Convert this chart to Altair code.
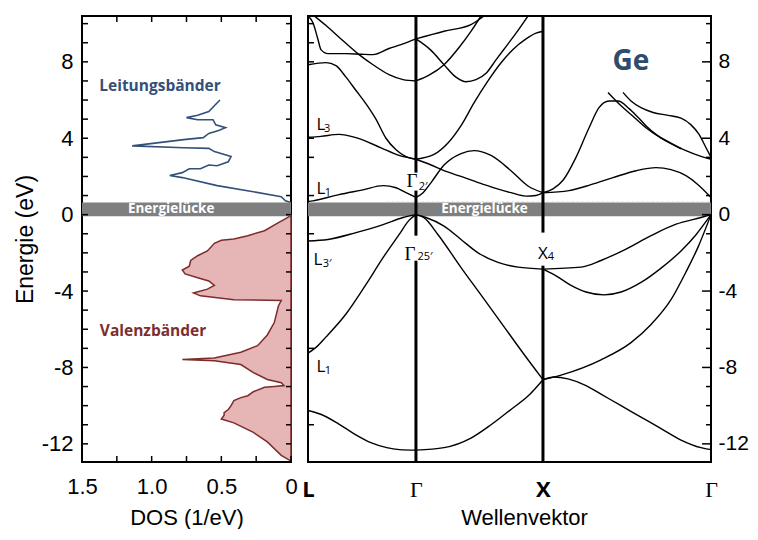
import altair as alt
import pandas as pd

# ---------------- axis ranges and tick values ----------------
E_RANGE = [-12.95, 10.4]
K_RANGE = [0.0, 3.173]
DOS_RANGE = [1.5, 0.0]
GAP = [-0.08, 0.64]
GAP_DOTS_E = 0.66
GAP_DOTS_K = [0.62, 3.173]

KPOINT_POS = [0.0, 0.85, 1.85, 3.173]
KPOINT_LABELS = ["L", "Γ", "X", "Γ"]
E_TICK_LABELS = [-12, -8, -4, 0, 4, 8]
DOS_TICK_LABELS = [1.5, 1.0, 0.5, 0.0]
E_MINOR = [-12, -11, -10, -9, -8, -7, -6, -5, -4, -3, -2, -1, 0, 1, 2, 3, 4, 5, 6, 7, 8, 9, 10]
DOS_MINOR = [0.0, 0.25, 0.5, 0.75, 1.0, 1.25, 1.5]
BAND_LEFT_TICKS = [10, 9, 8, 4, 3, 1, -1, -7, -11]

# ---------------- DOS (left panel) ----------------
DOS_CB_E = [6.0, 5.7, 5.4, 5.2, 5.08, 4.97, 4.97, 4.7, 4.55, 4.4, 4.25, 4.03, 3.93, 3.6, 3.5, 3.47,
            3.3, 3.04, 2.77, 2.56, 2.6, 2.4, 2.4, 2.2, 2.05, 1.94, 1.52, 1.2, 0.94, 0.73, 0.63]
DOS_CB_D = [0.51, 0.55, 0.59, 0.67, 0.75, 0.67, 0.56, 0.54, 0.47, 0.52, 0.59, 0.63, 0.77, 1.14, 0.77, 0.59,
            0.55, 0.43, 0.45, 0.53, 0.59, 0.65, 0.73, 0.78, 0.87, 0.78, 0.53, 0.27, 0.07, 0.04, 0.0]

DOS_VB_E = [-0.05, -0.42, -0.84, -1.1, -1.28, -1.34, -1.5, -1.9, -2.15, -2.4, -2.7, -2.9, -3.1, -3.3, -3.47,
            -3.7, -3.9, -4.1, -4.25, -4.45, -4.5, -4.77, -5.65, -6.3, -6.86, -7.2, -7.5, -7.58, -7.65, -7.85,
            -8.27, -8.63, -8.8, -8.95, -9.0, -9.04, -9.27, -9.48, -9.58, -9.74, -10.0, -10.2, -10.37, -10.5,
            -10.7, -10.9, -11.4, -11.9, -12.6, -12.9]
DOS_VB_D = [0.0, 0.09, 0.19, 0.31, 0.41, 0.5, 0.55, 0.6, 0.67, 0.72, 0.73, 0.78, 0.76, 0.67, 0.59,
            0.55, 0.6, 0.7, 0.65, 0.41, 0.07, 0.09, 0.12, 0.17, 0.24, 0.36, 0.55, 0.78, 0.55, 0.36,
            0.27, 0.17, 0.07, 0.05, 0.12, 0.19, 0.27, 0.31, 0.36, 0.41, 0.43, 0.45, 0.48, 0.48,
            0.5, 0.41, 0.27, 0.17, 0.07, 0.0]

# ---------------- band structure (right panel) ----------------
# L -> Gamma
V1A_K = [0, 0.1, 0.24, 0.37, 0.5, 0.62, 0.72, 0.85]
V1A_E = [-10.25, -10.45, -10.95, -11.5, -11.95, -12.2, -12.3, -12.33]
V2A_K = [0, 0.063, 0.142, 0.299, 0.457, 0.591, 0.717, 0.795, 0.85]
V2A_E = [-7.25, -6.95, -6.4, -5.2, -3.65, -2.25, -1.05, -0.3, 0]
V3A_K = [0, 0.157, 0.378, 0.591, 0.748, 0.85]
V3A_E = [-1.38, -1.3, -0.94, -0.52, -0.15, 0]
C1A_K = [0, 0.039, 0.244, 0.433, 0.591, 0.693, 0.772, 0.85]
C1A_E = [0.68, 0.72, 1.05, 1.3, 1.52, 1.41, 1.15, 0.9]
C2A_K = [0, 0.102, 0.244, 0.378, 0.575, 0.717, 0.85]
C2A_E = [4.05, 4.1, 4.2, 4.03, 3.5, 3.1, 2.9]
C3A_K = [0, 0.142, 0.22, 0.299, 0.378, 0.457, 0.535, 0.614, 0.693, 0.772, 0.85]
C3A_E = [7.85, 7.96, 7.8, 7.2, 6.5, 5.8, 5.0, 4.0, 3.4, 3.04, 2.9]
C4A_K = [0.047, 0.142, 0.26, 0.402, 0.512, 0.638, 0.748, 0.85]
C4A_E = [10.42, 9.9, 9.2, 8.38, 7.85, 7.33, 7.07, 7.0]
C5A_K = [0, 0.039, 0.079, 0.102, 0.157, 0.299, 0.417, 0.512, 0.638, 0.732, 0.85]
C5A_E = [10.4, 10.05, 9.16, 8.64, 8.43, 8.43, 8.4, 8.38, 8.7, 8.9, 9.2]
# Gamma -> X
V1B_K = [0.85, 1.071, 1.283, 1.441, 1.598, 1.732, 1.85]
V1B_E = [-12.33, -12.2, -11.7, -11.0, -10.2, -9.5, -8.64]
V2B_K = [0.85, 0.913, 1.024, 1.205, 1.362, 1.52, 1.677, 1.85]
V2B_E = [0, -0.16, -1.05, -2.77, -4.2, -5.65, -7.1, -8.64]
V3B_K = [0.85, 0.929, 1.071, 1.205, 1.339, 1.496, 1.654, 1.85]
V3B_E = [0, -0.15, -0.6, -1.3, -2.0, -2.5, -2.75, -2.85]
C1B_K = [0.85, 0.906, 0.969, 1.071, 1.205, 1.307, 1.441, 1.598, 1.732, 1.85]
C1B_E = [0.9, 1.15, 1.68, 2.6, 3.2, 3.35, 3.1, 2.3, 1.5, 1.15]
C2B_K = [0.85, 0.969, 1.071, 1.205, 1.339, 1.465, 1.598, 1.717, 1.795, 1.85]
C2B_E = [2.9, 2.6, 2.3, 2.0, 1.68, 1.4, 1.15, 0.97, 1.0, 1.15]
C3B_K = [0.85, 0.992, 1.102, 1.205, 1.307, 1.417, 1.52, 1.614, 1.717, 1.795, 1.85]
C3B_E = [2.9, 3.15, 3.75, 4.66, 5.85, 7.0, 7.95, 8.65, 9.2, 9.5, 9.6]
C4B_K = [0.85, 0.969, 1.071, 1.165, 1.244, 1.323, 1.402, 1.48, 1.559, 1.638, 1.732]
C4B_E = [9.2, 8.6, 7.85, 7.2, 6.96, 7.07, 7.4, 8.1, 8.8, 9.5, 10.4]
C5B_K = [0.85, 0.953, 1.071, 1.189, 1.283, 1.362]
C5B_E = [7.0, 7.3, 7.85, 8.75, 9.6, 10.4]
C6B_K = [0.85, 1.071, 1.283, 1.386]
C6B_E = [9.2, 9.6, 9.95, 10.4]
# X -> Gamma
V1C_K = [1.85, 2.15, 2.307, 2.504, 2.701, 2.898, 3.094, 3.173]
V1C_E = [-2.85, -2.75, -2.4, -1.8, -1.1, -0.5, -0.15, 0]
V2C_K = [1.85, 1.953, 2.071, 2.189, 2.331, 2.465, 2.622, 2.78, 2.937, 3.055, 3.173]
V2C_E = [-2.85, -3.2, -3.7, -4.05, -4.2, -4.05, -3.55, -2.8, -1.9, -1.05, 0]
V3C_K = [1.85, 1.992, 2.307, 2.543, 2.701, 2.858, 2.976, 3.071, 3.173]
V3C_E = [-8.64, -8.4, -7.6, -6.7, -5.75, -4.45, -3.0, -1.7, 0]
V4C_K = [1.85, 1.937, 2.047, 2.189, 2.307, 2.465, 2.622, 2.78, 2.937, 3.094, 3.173]
V4C_E = [-8.64, -8.5, -8.6, -8.95, -9.4, -10.0, -10.6, -11.2, -11.8, -12.2, -12.3]
C1C_K = [1.85, 2.055, 2.228, 2.402, 2.583, 2.74, 2.858, 2.976, 3.071, 3.173]
C1C_E = [1.15, 1.26, 1.57, 1.94, 2.3, 2.46, 2.36, 2.04, 1.57, 0.9]
C2C_K = [1.85, 1.929, 2.008, 2.11, 2.213, 2.291, 2.37, 2.441, 2.528, 2.598, 2.661, 2.74, 2.843, 2.976, 3.094, 3.173]
C2C_E = [1.15, 1.35, 1.8, 3.0, 4.55, 5.6, 5.95, 5.95, 5.55, 5.1, 4.66, 4.2, 3.8, 3.35, 3.05, 2.9]
C3C_K = [2.362, 2.465, 2.559, 2.661, 2.78, 2.937]
C3C_E = [6.4, 5.7, 5.15, 4.55, 4.0, 3.45]
C4C_K = [2.48, 2.543, 2.622, 2.717, 2.835, 2.937, 3.016, 3.079, 3.134, 3.173]
C4C_E = [6.4, 5.95, 5.6, 5.35, 5.2, 5.05, 4.7, 4.2, 3.5, 3.0]

BANDS = [
    ("v1a", V1A_K, V1A_E), ("v2a", V2A_K, V2A_E), ("v3a", V3A_K, V3A_E),
    ("c1a", C1A_K, C1A_E), ("c2a", C2A_K, C2A_E), ("c3a", C3A_K, C3A_E),
    ("c4a", C4A_K, C4A_E), ("c5a", C5A_K, C5A_E),
    ("v1b", V1B_K, V1B_E), ("v2b", V2B_K, V2B_E), ("v3b", V3B_K, V3B_E),
    ("c1b", C1B_K, C1B_E), ("c2b", C2B_K, C2B_E), ("c3b", C3B_K, C3B_E),
    ("c4b", C4B_K, C4B_E), ("c5b", C5B_K, C5B_E), ("c6b", C6B_K, C6B_E),
    ("v1c", V1C_K, V1C_E), ("v2c", V2C_K, V2C_E), ("v3c", V3C_K, V3C_E), ("v4c", V4C_K, V4C_E),
    ("c1c", C1C_K, C1C_E), ("c2c", C2C_K, C2C_E), ("c3c", C3C_K, C3C_E), ("c4c", C4C_K, C4C_E),
]

# symmetry-point vertical lines (with gaps for the labels)
VLINE_K = [0.85, 0.85, 0.85, 1.85, 1.85]
VLINE_TOP = [10.4, 1.26, -2.41, 10.4, -2.67]
VLINE_BOT = [2.2, -1.1, -12.95, -0.94, -12.95]

# point labels
SANS_LBL = ["L", "L", "L", "L", "X"]
SANS_LBL_K = [0.102, 0.102, 0.079, 0.102, 1.85]
SANS_LBL_E = [4.71, 1.36, -2.36, -7.96, -2.04]
SERIF_LBL = ["Γ", "Γ"]
SERIF_LBL_K = [0.819, 0.803]
SERIF_LBL_E = [1.78, -2.04]
SUB_LBL = ["3", "1", "3′", "1", "2′", "25′", "4"]
SUB_LBL_K = [0.15, 0.157, 0.15, 0.157, 0.906, 0.921, 1.913]
SUB_LBL_E = [4.5, 1.15, -2.57, -8.17, 1.47, -2.2, -2.2]

# ---------------- layout ----------------
W_L, W_R, H = 209, 403, 446
SANS = "Liberation Sans"
CAL = "Open Sans"

y_scale = alt.Scale(domain=E_RANGE, nice=False, zero=False)
dos_scale = alt.Scale(domain=DOS_RANGE, nice=False, zero=False)
k_scale = alt.Scale(domain=K_RANGE, nice=False, zero=False)

Y_AXIS_L = alt.Axis(values=E_TICK_LABELS, labelExpr="'' + datum.value", title="Energie (eV)",
                    labelFont=SANS, labelFontSize=22, labelPadding=9, titleFont=SANS,
                    titleFontSize=23, titleFontWeight="normal", titlePadding=4)
X_AXIS_L = alt.Axis(values=DOS_TICK_LABELS,
                    labelExpr="datum.value == 0 ? '0' : format(datum.value, '.1f')",
                    title="DOS (1/eV)", labelFont=SANS, labelFontSize=22, labelPadding=14,
                    labelFlush=False, titleFont=SANS, titleFontSize=22, titleFontWeight="normal",
                    titlePadding=10)

kexpr = ""
for pos, lab in zip(KPOINT_POS, KPOINT_LABELS):
    kexpr += "abs(datum.value - %s) < 0.01 ? '%s' : " % (pos, lab)
kexpr += "''"
gamma_test = " || ".join("abs(datum.value - %s) < 0.01" % pos
                         for pos, lab in zip(KPOINT_POS, KPOINT_LABELS) if lab == "Γ")

Y_AXIS_R = alt.Axis(orient="right", values=E_TICK_LABELS, labelExpr="'' + datum.value", title=None,
                    labelFont=SANS, labelFontSize=21, labelPadding=7)
X_AXIS_R = alt.Axis(values=KPOINT_POS, labelExpr=kexpr, title="Wellenvektor", labelFlush=False,
                    labelFont={"condition": {"test": gamma_test, "value": "Liberation Serif"},
                               "value": CAL},
                    labelFontWeight={"condition": {"test": gamma_test, "value": "normal"},
                                     "value": "bold"},
                    labelFontSize=22, labelPadding=17, titleFont=SANS, titleFontSize=22,
                    titleFontWeight="normal", titlePadding=7, titleX=216)

YL = alt.Y("E:Q", scale=y_scale, axis=Y_AXIS_L)
YR = alt.Y("E:Q", scale=y_scale, axis=Y_AXIS_R)
XL = alt.X("D:Q", scale=dos_scale, axis=X_AXIS_L)
XR = alt.X("k:Q", scale=k_scale, axis=X_AXIS_R)

# ---------------- left panel ----------------
vb_df = pd.DataFrame({"E": DOS_VB_E, "D": DOS_VB_D, "D0": 0.0})
cb_df = pd.DataFrame({"E": DOS_CB_E, "D": DOS_CB_D, "i": list(range(len(DOS_CB_E)))})
gap_df = pd.DataFrame({"E": [GAP[1]], "E2": [GAP[0]]})

vb_area = alt.Chart(vb_df).mark_area(orient="horizontal", fill="#e6b5b5", stroke="#7d2b2b",
                                     strokeWidth=1.5, opacity=1).encode(
    y=YL, x=XL, x2="D0:Q")
cb_line = alt.Chart(cb_df).mark_line(color="#34507a", strokeWidth=1.6).encode(
    y=YL, x=XL, order="i:Q")
gap_l = alt.Chart(gap_df).mark_rect(color="#7f7f7f").encode(
    y=YL, y2="E2:Q", x=alt.value(0), x2=alt.value(W_L))

ticks_e_l = pd.DataFrame({"E": E_MINOR})
ticks_d = pd.DataFrame({"D": DOS_MINOR})
tl1 = alt.Chart(ticks_e_l).mark_rule(color="black", strokeWidth=1.5).encode(
    y=YL, x=alt.value(0), x2=alt.value(6))
tl2 = alt.Chart(ticks_e_l).mark_rule(color="black", strokeWidth=1.5).encode(
    y=YL, x=alt.value(W_L), x2=alt.value(W_L - 5))
tl3 = alt.Chart(ticks_d).mark_rule(color="black", strokeWidth=1.5).encode(
    x=XL, y=alt.value(0), y2=alt.value(6))
tl4 = alt.Chart(ticks_d).mark_rule(color="black", strokeWidth=1.5).encode(
    x=XL, y=alt.value(H), y2=alt.value(H - 6))

txt_l = pd.DataFrame({"E": [6.75, -6.07], "D": [0.94, 0.99], "t": ["Leitungsbänder", "Valenzbänder"]})
lab_l = alt.Chart(txt_l).mark_text(font=CAL, fontWeight="bold", fontSize=15.5, align="center",
                                   baseline="middle").encode(
    y=YL, x=XL, text="t:N",
    color=alt.Color("t:N", scale=alt.Scale(domain=["Leitungsbänder", "Valenzbänder"],
                                            range=["#34507a", "#7d2e2e"]), legend=None))
gap_txt_l = alt.Chart(pd.DataFrame({"E": [(GAP[0] + GAP[1]) / 2], "D": [0.86], "t": ["Energielücke"]})).mark_text(
    font=CAL, fontWeight="bold", fontSize=13.5, color="white", baseline="middle").encode(
    y=YL, x=XL, text="t:N")

left = alt.layer(vb_area, cb_line, gap_l, gap_txt_l, lab_l, tl1, tl2, tl3, tl4).properties(
    width=W_L, height=H)

# ---------------- right panel ----------------
rows = []
for name, ks, es in BANDS:
    for i, (k, e) in enumerate(zip(ks, es)):
        rows.append({"band": name, "i": i, "k": k, "E": e})
bands_df = pd.DataFrame(rows)

gap_r = alt.Chart(gap_df).mark_rect(color="#7f7f7f").encode(
    y=YR, y2="E2:Q", x=alt.value(0), x2=alt.value(W_R))
dots = alt.Chart(pd.DataFrame({"E": [GAP_DOTS_E], "k": [GAP_DOTS_K[0]], "k2": [GAP_DOTS_K[1]]})).mark_rule(
    color="#c8c8c8", strokeWidth=1.2, strokeDash=[2, 3]).encode(y=YR, x=XR, x2="k2:Q")
band_lines = alt.Chart(bands_df).mark_line(color="black", strokeWidth=1.4, interpolate="monotone",
                                           clip=True).encode(
    x=XR, y=YR, detail="band:N", order="i:Q")
vl_df = pd.DataFrame({"k": VLINE_K, "E": VLINE_TOP, "E2": VLINE_BOT})
vlines = alt.Chart(vl_df).mark_rule(color="black", strokeWidth=3).encode(x=XR, y=YR, y2="E2:Q")

gap_txt_r = alt.Chart(pd.DataFrame({"E": [(GAP[0] + GAP[1]) / 2], "k": [1.39], "t": ["Energielücke"]})).mark_text(
    font=CAL, fontWeight="bold", fontSize=13.5, color="white", baseline="middle").encode(
    y=YR, x=XR, text="t:N")
ge_txt = alt.Chart(pd.DataFrame({"E": [8.0], "k": [2.543], "t": ["Ge"]})).mark_text(
    font=CAL, fontWeight="bold", fontSize=28, color="#2e4b6d", baseline="middle").encode(
    y=YR, x=XR, text="t:N")

sans_lbl = alt.Chart(pd.DataFrame({"k": SANS_LBL_K, "E": SANS_LBL_E, "t": SANS_LBL})).mark_text(
    font=CAL, fontSize=17, color="black", baseline="middle").encode(y=YR, x=XR, text="t:N")
serif_lbl = alt.Chart(pd.DataFrame({"k": SERIF_LBL_K, "E": SERIF_LBL_E, "t": SERIF_LBL})).mark_text(
    font="Liberation Serif", fontSize=19, color="black", baseline="middle").encode(y=YR, x=XR, text="t:N")
sub_lbl = alt.Chart(pd.DataFrame({"k": SUB_LBL_K, "E": SUB_LBL_E, "t": SUB_LBL})).mark_text(
    font=CAL, fontSize=11, color="black", baseline="middle").encode(y=YR, x=XR, text="t:N")

ticks_rl = pd.DataFrame({"E": BAND_LEFT_TICKS})
ticks_rr_min = pd.DataFrame({"E": [e for e in E_MINOR if e not in E_TICK_LABELS]})
ticks_rr_maj = pd.DataFrame({"E": E_TICK_LABELS})
tr1 = alt.Chart(ticks_rl).mark_rule(color="black", strokeWidth=1.5).encode(
    y=YR, x=alt.value(0), x2=alt.value(6))
tr2 = alt.Chart(ticks_rr_min).mark_rule(color="black", strokeWidth=1.5).encode(
    y=YR, x=alt.value(W_R), x2=alt.value(W_R - 5))
tr3 = alt.Chart(ticks_rr_maj).mark_rule(color="black", strokeWidth=1.5).encode(
    y=YR, x=alt.value(W_R), x2=alt.value(W_R - 9))

right = alt.layer(gap_r, dots, band_lines, vlines, gap_txt_r, ge_txt, sans_lbl, serif_lbl, sub_lbl,
                  tr1, tr2, tr3).properties(width=W_R, height=H)

chart = alt.hconcat(left, right, spacing=17, bounds="flush").resolve_scale(
    x="independent", y="independent").configure_view(
    stroke="black", strokeWidth=2).configure_axis(
    grid=False, domain=False, ticks=False, labelColor="black", titleColor="black").properties(
    padding={"left": 5, "top": 5, "right": 0, "bottom": 0}, background="white")

chart.save("out.html", embed_options={"renderer": "svg", "actions": False})
